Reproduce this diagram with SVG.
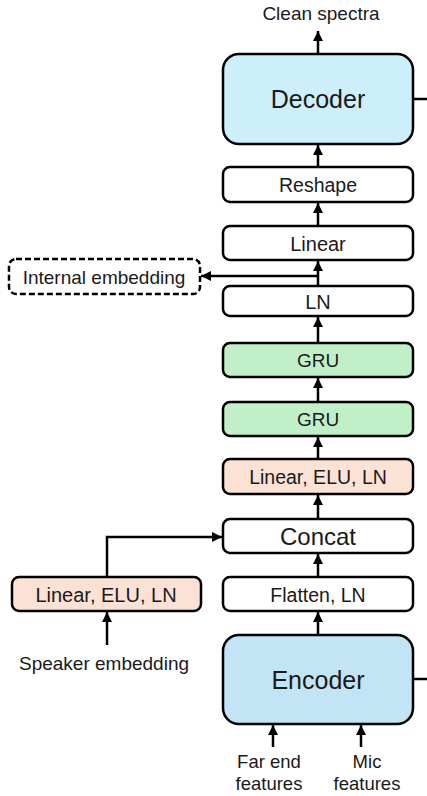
<svg xmlns="http://www.w3.org/2000/svg" width="427" height="796" viewBox="0 0 427 796">
<defs>
<marker id="ah" markerUnits="userSpaceOnUse" markerWidth="12" markerHeight="12" refX="10" refY="5" orient="auto">
<path d="M0,0 L10,5 L0,10 Z" fill="#000"/>
</marker>
<style>
.box{stroke:#000;stroke-width:2.5;fill:#fff}
.big{stroke:#000;stroke-width:2.5}
.t{font-family:"Liberation Sans",Arial,sans-serif;fill:#1a1a1a;text-anchor:middle}
.c{stroke:#000;stroke-width:2.5;fill:none}
</style>
</defs>
<g id="connectors">
<line class="c" x1="318" y1="54" x2="318" y2="31" marker-end="url(#ah)"/>
<line class="c" x1="318" y1="167" x2="318" y2="145" marker-end="url(#ah)"/>
<line class="c" x1="318" y1="226" x2="318" y2="203" marker-end="url(#ah)"/>
<line class="c" x1="318" y1="286" x2="318" y2="261" marker-end="url(#ah)"/>
<line class="c" x1="318" y1="276" x2="201" y2="276" marker-end="url(#ah)"/>
<line class="c" x1="318" y1="343" x2="318" y2="317" marker-end="url(#ah)"/>
<line class="c" x1="318" y1="402" x2="318" y2="378" marker-end="url(#ah)"/>
<line class="c" x1="318" y1="459" x2="318" y2="437" marker-end="url(#ah)"/>
<line class="c" x1="318" y1="519" x2="318" y2="495" marker-end="url(#ah)"/>
<line class="c" x1="318" y1="577" x2="318" y2="554" marker-end="url(#ah)"/>
<line class="c" x1="318" y1="635" x2="318" y2="612" marker-end="url(#ah)"/>
<polyline class="c" points="107,577 107,537 222,537" marker-end="url(#ah)"/>
<line class="c" x1="107" y1="645" x2="107" y2="612" marker-end="url(#ah)"/>
<line class="c" x1="273" y1="747" x2="273" y2="725" marker-end="url(#ah)"/>
<line class="c" x1="361" y1="747" x2="361" y2="725" marker-end="url(#ah)"/>
<line class="c" x1="413" y1="99" x2="427" y2="99"/>
<line class="c" x1="413" y1="679" x2="427" y2="679"/>
</g>
<g id="clean-spectra"><text class="t" x="321" y="20" font-size="19">Clean spectra</text></g>
<g id="decoder"><rect class="big" x="223" y="54" width="190" height="90" rx="16" fill="#cdeefb"/><text class="t" x="318" y="108" font-size="25">Decoder</text></g>
<g id="reshape"><rect class="box" x="223" y="167" width="190" height="35" rx="7"/><text class="t" x="318" y="191.5" font-size="19.5">Reshape</text></g>
<g id="linear"><rect class="box" x="223" y="226" width="190" height="34" rx="7"/><text class="t" x="318" y="250.5" font-size="20">Linear</text></g>
<g id="internal-embedding"><rect x="9" y="259" width="191" height="35" rx="7" fill="#fff" stroke="#000" stroke-width="2.5" stroke-dasharray="6,3"/><text class="t" x="104" y="283.5" font-size="19">Internal embedding</text></g>
<g id="ln"><rect class="box" x="223" y="286" width="190" height="30" rx="7"/><text class="t" x="318" y="308.5" font-size="20">LN</text></g>
<g id="gru1"><rect class="box" x="223" y="343" width="190" height="34" rx="7" style="fill:#c1f0c8"/><text class="t" x="318" y="367" font-size="19">GRU</text></g>
<g id="gru2"><rect class="box" x="223" y="402" width="190" height="34" rx="7" style="fill:#c1f0c8"/><text class="t" x="318" y="426" font-size="19">GRU</text></g>
<g id="linear-elu-ln"><rect class="box" x="223" y="459" width="190" height="35" rx="7" style="fill:#fbe2d5"/><text class="t" x="318" y="483.5" font-size="19.5">Linear, ELU, LN</text></g>
<g id="concat"><rect class="box" x="223" y="519" width="190" height="34" rx="7"/><text class="t" x="318" y="544.5" font-size="24">Concat</text></g>
<g id="flatten-ln"><rect class="box" x="223" y="577" width="190" height="34" rx="7"/><text class="t" x="318" y="601.5" font-size="19.5">Flatten, LN</text></g>
<g id="speaker-linear"><rect class="box" x="12" y="577" width="189" height="34" rx="7" style="fill:#fbe2d5"/><text class="t" x="106" y="601.5" font-size="20">Linear, ELU, LN</text></g>
<g id="speaker-embedding"><text class="t" x="104" y="670" font-size="19">Speaker embedding</text></g>
<g id="encoder"><rect class="big" x="223" y="635" width="190" height="89" rx="16" fill="#c2e4f4"/><text class="t" x="318" y="688.5" font-size="25">Encoder</text></g>
<g id="far-end"><text class="t" x="269" y="768" font-size="18.5">Far end</text><text class="t" x="269" y="790" font-size="18.5">features</text></g>
<g id="mic"><text class="t" x="367" y="768" font-size="18.5">Mic</text><text class="t" x="367" y="790" font-size="18.5">features</text></g>
</svg>
